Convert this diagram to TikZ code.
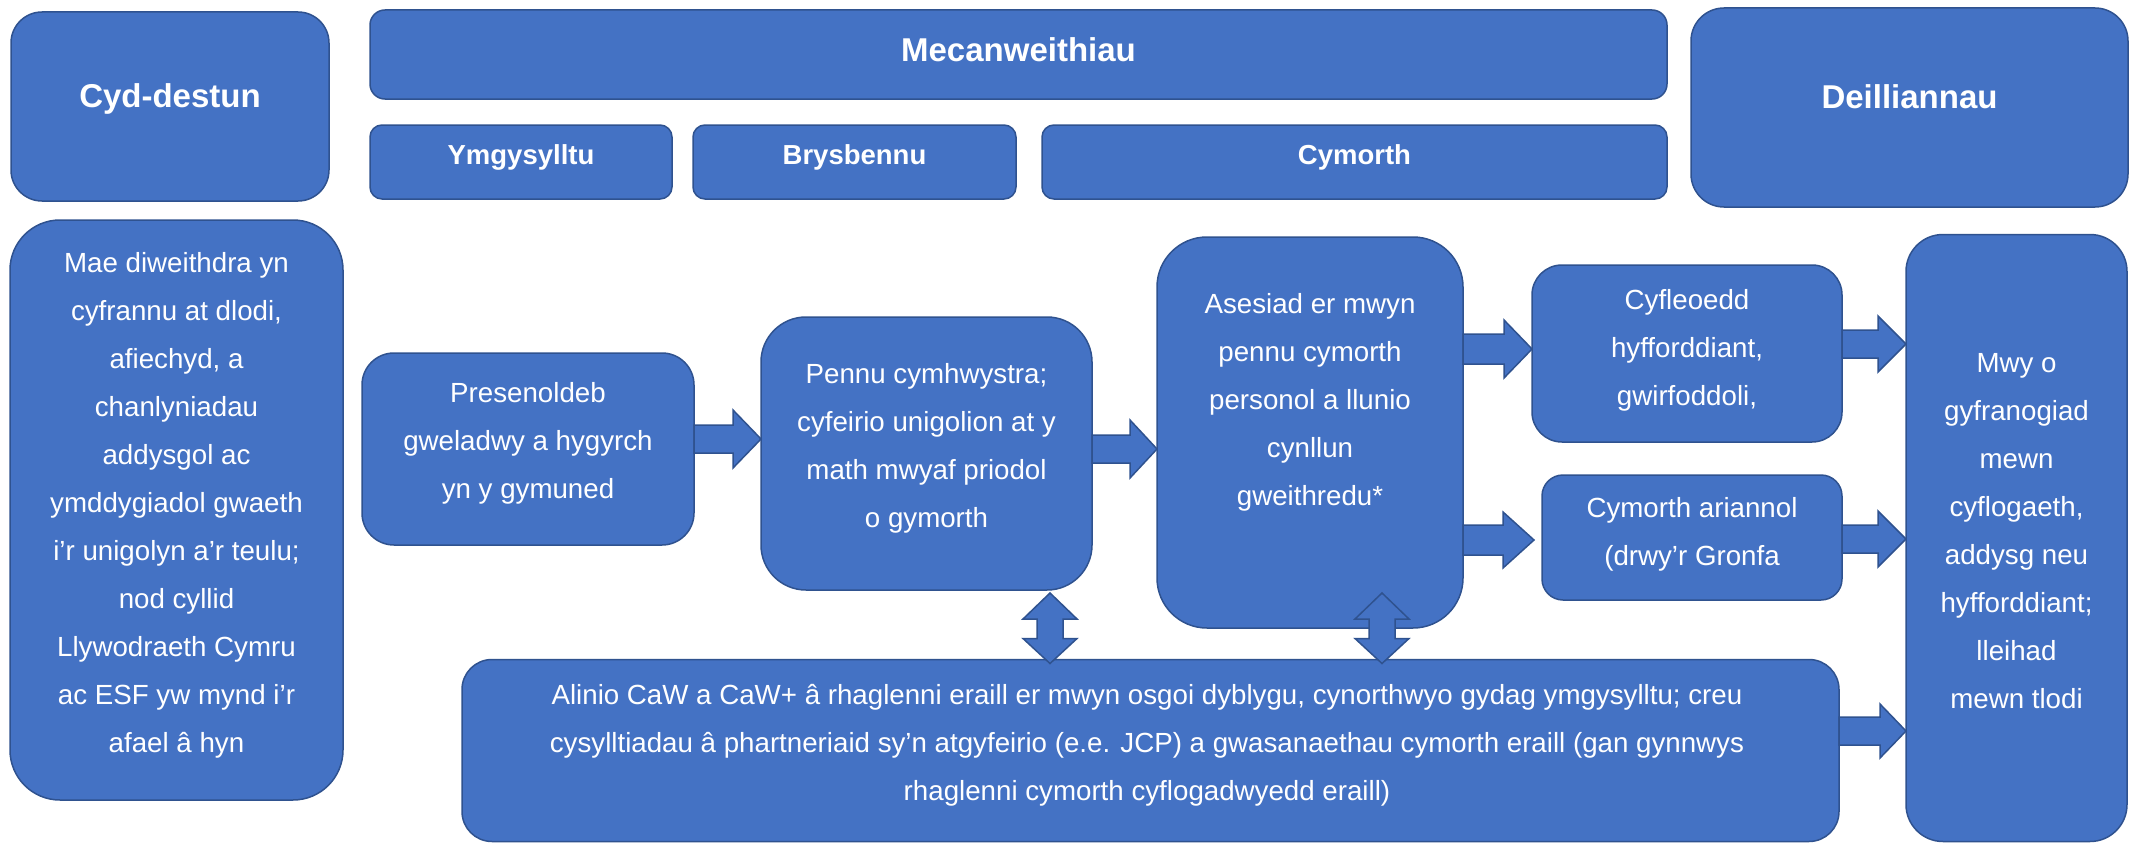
\documentclass[tikz,border=0pt]{standalone}
\usepackage{fontspec}
\setmainfont{Liberation Sans}
\usetikzlibrary{calc}
\definecolor{boxblue}{RGB}{68,114,196}
\definecolor{boxedge}{RGB}{47,82,143}
% horizontal block arrow: #1 tail, #2 tip, #3 head length, #4 shaft half height, #5 head half height
\newcommand{\harrow}[5]{%
  \draw[barrow] let \p1=(#1), \p2=(#2) in
    (\x1,\y1+#4) -- (\x2-#3,\y1+#4) -- (\x2-#3,\y1+#5) -- (\x2,\y1)
    -- (\x2-#3,\y1-#5) -- (\x2-#3,\y1-#4) -- (\x1,\y1-#4) -- cycle;}
% vertical double block arrow: #1 top tip, #2 bottom tip
\newcommand{\vdarrow}[2]{%
  \draw[barrow] let \p1=(#1), \p2=(#2) in
    (\p1) -- (\x1+27pt,\y1-26pt) -- (\x1+13pt,\y1-26pt) -- (\x1+13pt,\y2+25pt)
    -- (\x1+27pt,\y2+25pt) -- (\x1,\y2) -- (\x1-27pt,\y2+25pt) -- (\x1-13pt,\y2+25pt)
    -- (\x1-13pt,\y1-26pt) -- (\x1-27pt,\y1-26pt) -- cycle;}
\begin{document}
\begin{tikzpicture}[x=1pt,y=1pt,
  rbox/.style={rectangle, rounded corners=#1, fill=boxblue, draw=boxedge, line width=1.5pt, inner sep=0pt, outer sep=0pt},
  txt/.style={text=white, align=center, inner sep=0pt, font=\fontsize{27.7}{48}\selectfont},
  subt/.style={text=white, align=center, inner sep=0pt, font=\fontsize{27.5}{33}\selectfont\bfseries},
  ttl/.style={text=white, align=center, inner sep=0pt, font=\fontsize{33}{40}\selectfont\bfseries},
  barrow/.style={fill=boxblue, draw=boxedge, line width=1.5pt, line join=miter}]
\fill[white] (0,0) rectangle (2129,-843);
\useasboundingbox (0,0) rectangle (2129,-843);

% header row
\node[rbox=31pt, minimum width=318pt, minimum height=189pt] (cyd) at (170,-106.5) {};
\node[ttl] (cydT) at (170,-99) {Cyd-destun};
\node[rbox=15pt, minimum width=1297pt, minimum height=89pt] (mec) at (1018.5,-54.5) {};
\node[ttl] (mecT) at (1018.5,-50) {Mecanweithiau};
\node[rbox=12pt, minimum width=302pt, minimum height=74pt] (ymg) at (521,-162) {};
\node[subt] (ymgT) at (521,-157) {Ymgysylltu};
\node[rbox=12pt, minimum width=323pt, minimum height=74pt] (brys) at (854.5,-162) {};
\node[subt] (brysT) at (854.5,-157) {Brysbennu};
\node[rbox=12pt, minimum width=625pt, minimum height=74pt] (cym) at (1354.5,-162) {};
\node[subt] (cymT) at (1354.5,-157) {Cymorth};
\node[rbox=33pt, minimum width=437pt, minimum height=199pt] (deil) at (1909.5,-107.5) {};
\node[ttl] (deilT) at (1909.5,-97) {Deilliannau};

% body boxes
\node[rbox=50pt, minimum width=333pt, minimum height=580pt] (ctx) at (176.5,-510) {};
\node[txt] (ctxT) at (176.5,-505.5) {Mae diweithdra yn\\cyfrannu at dlodi,\\afiechyd, a\\chanlyniadau\\addysgol ac\\ymddygiadol gwaeth\\i'r unigolyn a'r teulu;\\nod cyllid\\Llywodraeth Cymru\\ac ESF yw mynd i'r\\afael â hyn};

\node[rbox=32pt, minimum width=332pt, minimum height=192pt] (pres) at (528,-449) {};
\node[txt] (presT) at (528,-443) {Presenoldeb\\gweladwy a hygyrch\\yn y gymuned};

\node[rbox=45pt, minimum width=331pt, minimum height=273pt] (pennu) at (926.5,-453.5) {};
\node[txt] (pennuT) at (926.5,-448) {Pennu cymhwystra;\\cyfeirio unigolion at y\\math mwyaf priodol\\o gymorth};

\node[rbox=50pt, minimum width=306pt, minimum height=391pt] (ases) at (1310,-432.5) {};
\node[txt] (asesT) at (1310,-402) {Asesiad er mwyn\\pennu cymorth\\personol a llunio\\cynllun\\gweithredu*};

\node[rbox=30pt, minimum width=310pt, minimum height=177pt] (cyfl) at (1687,-353.5) {};
\node[txt] (cyflT) at (1687,-350) {Cyfleoedd\\hyfforddiant,\\gwirfoddoli,};

\node[rbox=21pt, minimum width=300pt, minimum height=125pt] (cyma) at (1692,-537.5) {};
\node[txt] (cymaT) at (1692,-534) {Cymorth ariannol\\(drwy’r Gronfa};

\node[rbox=37pt, minimum width=221pt, minimum height=607pt] (mwy) at (2016.5,-538) {};
\node[txt] (mwyT) at (2016.5,-531) {Mwy o\\gyfranogiad\\mewn\\cyflogaeth,\\addysg neu\\hyfforddiant;\\lleihad\\mewn tlodi};

\node[rbox=30pt, minimum width=1377pt, minimum height=182pt] (alin) at (1150.5,-750.5) {};
\node[txt] (alinT) at (1147,-745) {Alinio CaW a CaW+ â rhaglenni eraill er mwyn osgoi dyblygu, cynorthwyo gydag ymgysylltu; creu\\cysylltiadau â phartneriaid sy'n atgyfeirio (e.e. JCP) a gwasanaethau cymorth eraill (gan gynnwys\\rhaglenni cymorth cyflogadwyedd eraill)};

% arrow heights
\coordinate (ya1) at (0,-439);
\coordinate (ya2) at (0,-449);
\coordinate (ya3) at (0,-349);
\coordinate (ya4) at (0,-540);
\coordinate (ya5) at (0,-344);
\coordinate (ya6) at (0,-539);
\coordinate (ya7) at (0,-731);
\coordinate (xd1) at (1050,0);
\coordinate (xd2) at (1382,0);

\harrow{pres.east |- ya1}{pennu.west |- ya1}{28pt}{14pt}{29pt}
\harrow{pennu.east |- ya2}{ases.west |- ya2}{27pt}{14pt}{29pt}
\harrow{ases.east |- ya3}{cyfl.west |- ya3}{28pt}{15pt}{29pt}
\coordinate (cymaTip) at ($(cyma.west |- ya4)+(-8,0)$);
\harrow{ases.east |- ya4}{cymaTip}{31pt}{15pt}{28pt}
\harrow{cyfl.east |- ya5}{mwy.west |- ya5}{28pt}{14pt}{28pt}
\harrow{cyma.east |- ya6}{mwy.west |- ya6}{28pt}{14pt}{28pt}
\harrow{alin.east |- ya7}{mwy.west |- ya7}{26pt}{14pt}{27pt}

\coordinate (d1top) at ($(pennu.south -| xd1)+(0,-3)$);
\coordinate (d1bot) at ($(alin.north -| xd1)+(0,-4)$);
\vdarrow{d1top}{d1bot}
\coordinate (d2top) at ($(ases.south -| xd2)+(0,35)$);
\coordinate (d2bot) at ($(alin.north -| xd2)+(0,-4)$);
\vdarrow{d2top}{d2bot}
\end{tikzpicture}
\end{document}
